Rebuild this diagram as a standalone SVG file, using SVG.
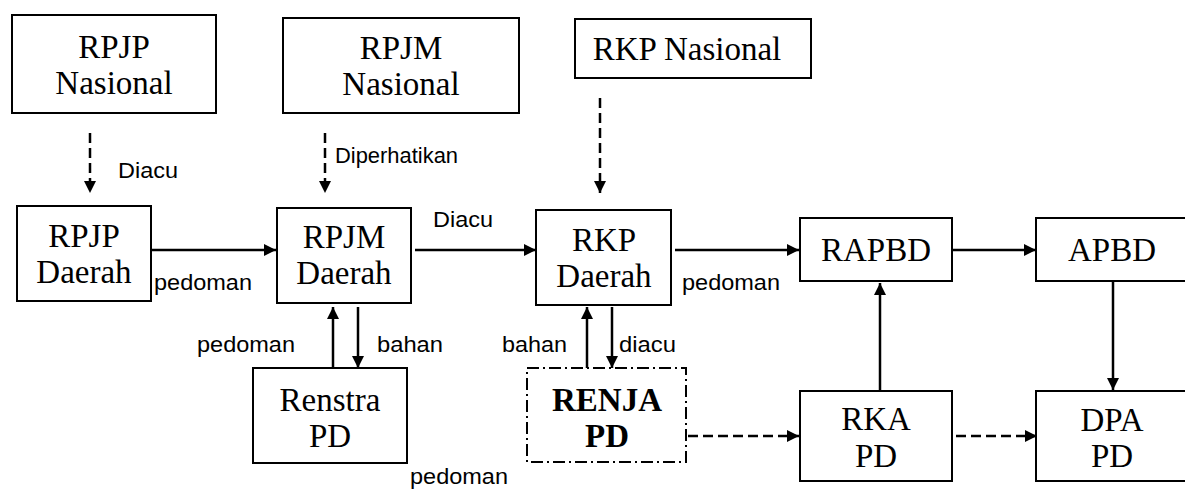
<svg xmlns="http://www.w3.org/2000/svg" width="1185" height="489" viewBox="0 0 1185 489">
<defs>
<style>
.box{fill:#fff;stroke:#000;stroke-width:2}
.t{font-family:"Liberation Serif","Times New Roman",serif;font-size:33px;text-anchor:middle;fill:#000}
.b{font-weight:bold}
.lbl{font-family:"Liberation Sans",Arial,sans-serif;font-size:22px;fill:#000}
.c{stroke:#000;stroke-width:2.5;fill:none}
.d{stroke-dasharray:10,5}
.dd{fill:#fff;stroke:#000;stroke-width:2;stroke-dasharray:12,4,2,4}
</style>
<marker id="ah" viewBox="0 0 12 12" refX="12" refY="6" markerWidth="12" markerHeight="12" markerUnits="userSpaceOnUse" orient="auto">
<path d="M0,0 L12,6 L0,12 z" fill="#000"/>
</marker>
</defs>
<rect width="1185" height="489" fill="#fff"/>
<g id="connectors">
<line class="c d" x1="90" y1="133" x2="90" y2="193" marker-end="url(#ah)"/>
<line class="c d" x1="325" y1="133" x2="325" y2="193" marker-end="url(#ah)"/>
<line class="c d" x1="600" y1="98" x2="600" y2="193" marker-end="url(#ah)"/>
<line class="c" x1="152" y1="250" x2="276" y2="250" marker-end="url(#ah)"/>
<line class="c" x1="415" y1="250" x2="536" y2="250" marker-end="url(#ah)"/>
<line class="c" x1="675" y1="250" x2="799" y2="250" marker-end="url(#ah)"/>
<line class="c" x1="953" y1="250" x2="1036" y2="250" marker-end="url(#ah)"/>
<line class="c" x1="333" y1="368" x2="333" y2="307" marker-end="url(#ah)"/>
<line class="c" x1="358" y1="307" x2="358" y2="368" marker-end="url(#ah)"/>
<line class="c" x1="587" y1="368" x2="587" y2="307" marker-end="url(#ah)"/>
<line class="c" x1="612" y1="307" x2="612" y2="368" marker-end="url(#ah)"/>
<line class="c" x1="880" y1="391" x2="880" y2="283" marker-end="url(#ah)"/>
<line class="c" x1="1113" y1="282" x2="1113" y2="390" marker-end="url(#ah)"/>
<line class="c d" x1="688" y1="436" x2="799" y2="436" marker-end="url(#ah)"/>
<line class="c d" x1="956" y1="436" x2="1037" y2="436" marker-end="url(#ah)"/>
<text class="lbl" x="118" y="178" textLength="60" lengthAdjust="spacingAndGlyphs">Diacu</text>
<text class="lbl" x="335" y="163" textLength="123" lengthAdjust="spacingAndGlyphs">Diperhatikan</text>
<text class="lbl" x="433" y="227" textLength="60" lengthAdjust="spacingAndGlyphs">Diacu</text>
<text class="lbl" x="154" y="290" textLength="98" lengthAdjust="spacingAndGlyphs">pedoman</text>
<text class="lbl" x="682" y="290" textLength="98" lengthAdjust="spacingAndGlyphs">pedoman</text>
<text class="lbl" x="197" y="352" textLength="98" lengthAdjust="spacingAndGlyphs">pedoman</text>
<text class="lbl" x="377" y="352" textLength="66" lengthAdjust="spacingAndGlyphs">bahan</text>
<text class="lbl" x="502" y="352" textLength="65" lengthAdjust="spacingAndGlyphs">bahan</text>
<text class="lbl" x="619" y="352" textLength="57" lengthAdjust="spacingAndGlyphs">diacu</text>
<text class="lbl" x="410" y="484" textLength="98" lengthAdjust="spacingAndGlyphs">pedoman</text>
</g>
<g id="rpjp-nasional"><rect class="box" x="12" y="15" width="204" height="98"/><text class="t" x="114" y="58">RPJP</text><text class="t" x="114" y="94">Nasional</text></g>
<g id="rpjm-nasional"><rect class="box" x="283" y="18" width="236" height="95"/><text class="t" x="401" y="59">RPJM</text><text class="t" x="401" y="95">Nasional</text></g>
<g id="rkp-nasional"><rect class="box" x="575" y="19" width="236" height="59"/><text class="t" x="687" y="60">RKP Nasional</text></g>
<g id="rpjp-daerah"><rect class="box" x="17" y="206" width="134" height="95"/><text class="t" x="84" y="247">RPJP</text><text class="t" x="84" y="283">Daerah</text></g>
<g id="rpjm-daerah"><rect class="box" x="277" y="208" width="134" height="95"/><text class="t" x="344" y="248">RPJM</text><text class="t" x="344" y="284">Daerah</text></g>
<g id="rkp-daerah"><rect class="box" x="536" y="210" width="135" height="95"/><text class="t" x="604" y="251">RKP</text><text class="t" x="604" y="287">Daerah</text></g>
<g id="rapbd"><rect class="box" x="800" y="218" width="152" height="63"/><text class="t" x="876" y="261">RAPBD</text></g>
<g id="apbd"><rect class="box" x="1036" y="218" width="160" height="63"/><text class="t" x="1112" y="261">APBD</text></g>
<g id="renstra-pd"><rect class="box" x="253" y="368" width="154" height="95"/><text class="t" x="330" y="411">Renstra</text><text class="t" x="330" y="447">PD</text></g>
<g id="renja-pd"><rect class="dd" x="527" y="368" width="159" height="94"/><text class="t b" x="607" y="411">RENJA</text><text class="t b" x="607" y="447">PD</text></g>
<g id="rka-pd"><rect class="box" x="800" y="391" width="152" height="90"/><text class="t" x="876" y="430">RKA</text><text class="t" x="876" y="467">PD</text></g>
<g id="dpa-pd"><rect class="box" x="1036" y="391" width="160" height="90"/><text class="t" x="1112" y="431">DPA</text><text class="t" x="1112" y="467">PD</text></g>
</svg>
